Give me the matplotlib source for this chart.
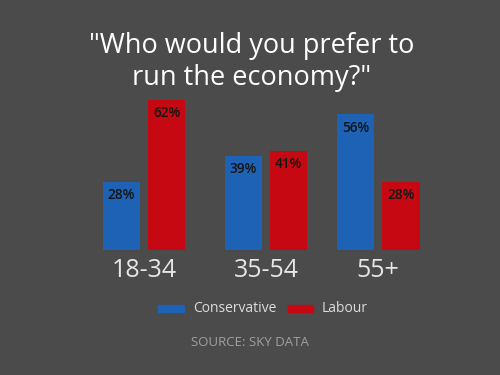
import matplotlib
matplotlib.use("Agg")
import matplotlib.pyplot as plt
from matplotlib.patches import Rectangle

categories = ["18-34", "35-54", "55+"]
conservative = [28, 39, 56]
labour = [62, 41, 28]
series_names = ["Conservative", "Labour"]
title = '"Who would you prefer to\nrun the economy?"'
source = "SOURCE: SKY DATA"

BG = "#4b4b4b"
BLUE = "#1d62b4"
RED = "#c50812"
FONT = ["Open Sans", "DejaVu Sans"]

fig = plt.figure(figsize=(5, 3.75), dpi=100, facecolor=BG)
ax = fig.add_axes([83/500, 125/375, 366/500, 169.4/375])
ax.set_facecolor(BG)
ax.set_xlim(-0.5, 2.5)
ax.set_ylim(0, 70)
for s in ax.spines.values():
    s.set_visible(False)
ax.set_xticks([])
ax.set_yticks([])

xs = [0, 1, 1.92]
w = 0.305
off = 0.186
b1 = ax.bar([x - off for x in xs], conservative, width=w, color=BLUE)
b2 = ax.bar([x + off for x in xs], labour, width=w, color=RED)

for bars, vals in ((b1, conservative), (b2, labour)):
    for r, v in zip(bars, vals):
        ax.annotate(f"{v}%", (r.get_x() + r.get_width()/2, v), xytext=(0, -4.5),
                    textcoords="offset points", ha="center", va="top",
                    fontsize=9.8, fontweight="semibold", color="#141414", family=FONT)

for x, c in zip(xs, categories):
    ax.annotate(c, (x, 0), xytext=(0, -6), textcoords="offset points",
                ha="center", va="top", fontsize=18, color="#e6e6e6", family=FONT)

fig.text(0.503, 1 - 62/375, title, ha="center", va="center", fontsize=19.5,
         color="white", family=FONT, linespacing=1.2)

# legend
fig.patches.append(Rectangle((158/500, 1 - 312/375), 26/500, 7/375,
                             transform=fig.transFigure, color=BLUE))
fig.text(193/500, 1 - 308/375, series_names[0], ha="left", va="center",
         fontsize=10, color="#dcdcdc", family=FONT)
fig.patches.append(Rectangle((288/500, 1 - 312/375), 25/500, 7/375,
                             transform=fig.transFigure, color=RED))
fig.text(322/500, 1 - 308/375, series_names[1], ha="left", va="center",
         fontsize=10, color="#dcdcdc", family=FONT)

fig.text(0.5, 1 - 343/375, source, ha="center", va="center", fontsize=9.5,
         color="#a0a0a0", family=FONT)

fig.savefig("out.png", dpi=100, facecolor=BG)
